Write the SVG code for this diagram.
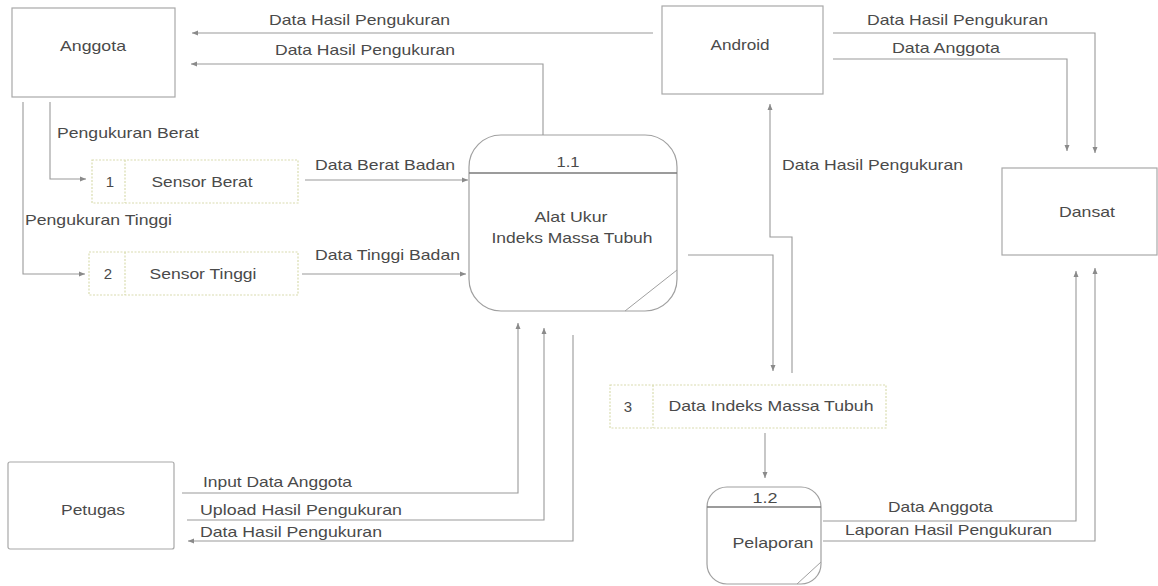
<svg xmlns="http://www.w3.org/2000/svg" width="1158" height="586" viewBox="0 0 1158 586">
  <defs>
    <marker id="arr" markerUnits="userSpaceOnUse" markerWidth="7" markerHeight="6" refX="6" refY="3" orient="auto">
      <path d="M0,0.5 L6,3 L0,5.5 z" fill="#8a8a8a"/>
    </marker>
    <style>
      text { font-family: "Liberation Sans", Arial, sans-serif; font-size: 15px; fill: #4a4a4a; }
      .mid { text-anchor: middle; }
      .ext { fill: #ffffff; stroke: #a8a8a8; stroke-width: 1.2; }
      .proc { fill: #ffffff; stroke: #a0a0a0; stroke-width: 1.2; }
      .bar { stroke: #7a7a7a; stroke-width: 1.6; }
      .fold { stroke: #a0a0a0; stroke-width: 1; fill: none; }
      .store { fill: #ffffff; stroke: #d9dcb0; stroke-width: 1.2; stroke-dasharray: 2 1.5; }
      .flow { fill: none; stroke: #9a9a9a; stroke-width: 1.1; marker-end: url(#arr); }
    </style>
  </defs>
  <rect width="1158" height="586" fill="#ffffff"/>

  <!-- external entities -->
  <g id="anggota">
    <rect class="ext" x="12" y="8" width="163" height="89"/>
    <text class="mid" x="93" y="51" textLength="66" lengthAdjust="spacingAndGlyphs">Anggota</text>
  </g>
  <g id="android">
    <rect class="ext" x="662" y="6" width="161" height="88"/>
    <text class="mid" x="740" y="50" textLength="59" lengthAdjust="spacingAndGlyphs">Android</text>
  </g>
  <g id="dansat">
    <rect class="ext" x="1002" y="168" width="155" height="87"/>
    <text class="mid" x="1087" y="217" textLength="56" lengthAdjust="spacingAndGlyphs">Dansat</text>
  </g>
  <g id="petugas">
    <rect class="ext" x="8" y="462" width="166" height="87" rx="2"/>
    <text class="mid" x="93" y="515" textLength="64" lengthAdjust="spacingAndGlyphs">Petugas</text>
  </g>

  <!-- processes -->
  <g id="proc-1-1">
    <rect class="proc" x="469" y="135" width="208" height="176" rx="32"/>
    <line class="bar" x1="469" y1="173" x2="677" y2="173"/>
    <path class="fold" d="M625,311 L677,270"/>
    <text class="mid" x="568" y="167" textLength="23" lengthAdjust="spacingAndGlyphs">1.1</text>
    <text class="mid" x="571" y="222" textLength="73" lengthAdjust="spacingAndGlyphs">Alat Ukur</text>
    <text class="mid" x="572" y="243" textLength="161" lengthAdjust="spacingAndGlyphs">Indeks Massa Tubuh</text>
  </g>
  <g id="proc-1-2">
    <rect class="proc" x="707" y="487" width="114" height="97" rx="20"/>
    <line class="bar" x1="707" y1="507" x2="821" y2="507"/>
    <path class="fold" d="M797,584 L821,562"/>
    <text class="mid" x="765" y="503" textLength="25" lengthAdjust="spacingAndGlyphs">1.2</text>
    <text class="mid" x="773" y="548" textLength="81" lengthAdjust="spacingAndGlyphs">Pelaporan</text>
  </g>

  <!-- data stores -->
  <g id="store-1">
    <rect class="store" x="92" y="160" width="206" height="43"/>
    <line class="store" x1="125" y1="160" x2="125" y2="203"/>
    <text class="mid" x="110" y="187">1</text>
    <text class="mid" x="202" y="187" textLength="101" lengthAdjust="spacingAndGlyphs">Sensor Berat</text>
  </g>
  <g id="store-2">
    <rect class="store" x="89" y="252" width="209" height="43"/>
    <line class="store" x1="125" y1="252" x2="125" y2="295"/>
    <text class="mid" x="108" y="279">2</text>
    <text class="mid" x="203" y="279" textLength="107" lengthAdjust="spacingAndGlyphs">Sensor Tinggi</text>
  </g>
  <g id="store-3">
    <rect class="store" x="610" y="385" width="276" height="43"/>
    <line class="store" x1="653" y1="385" x2="653" y2="428"/>
    <text class="mid" x="628" y="412">3</text>
    <text class="mid" x="771" y="411" textLength="205" lengthAdjust="spacingAndGlyphs">Data Indeks Massa Tubuh</text>
  </g>

  <!-- data flows -->
  <g id="connectors">
    <path class="flow" d="M653,33 H192"/>
    <path class="flow" d="M543,135 V64 H191"/>
    <path class="flow" d="M50,102 V179 H86"/>
    <path class="flow" d="M23,102 V274 H85"/>
    <path class="flow" d="M305,180 H468"/>
    <path class="flow" d="M302,274 H466"/>
    <path class="flow" d="M182,493 H518 V323"/>
    <path class="flow" d="M187,520 H544 V328"/>
    <path class="flow" d="M573,335 V541 H188"/>
    <path class="flow" d="M688,255 H773 V371"/>
    <path class="flow" d="M792,373 V237 H770 V104"/>
    <path class="flow" d="M765,433 V478"/>
    <path class="flow" d="M833,33 H1095 V153"/>
    <path class="flow" d="M833,59 H1067 V151"/>
    <path class="flow" d="M823,521 H1076 V271"/>
    <path class="flow" d="M823,541 H1095 V268"/>

    <text x="269" y="25" textLength="181" lengthAdjust="spacingAndGlyphs">Data Hasil Pengukuran</text>
    <text x="275" y="55" textLength="180" lengthAdjust="spacingAndGlyphs">Data Hasil Pengukuran</text>
    <text x="57" y="138" textLength="142" lengthAdjust="spacingAndGlyphs">Pengukuran Berat</text>
    <text x="25" y="225" textLength="147" lengthAdjust="spacingAndGlyphs">Pengukuran Tinggi</text>
    <text x="315" y="170" textLength="140" lengthAdjust="spacingAndGlyphs">Data Berat Badan</text>
    <text x="315" y="260" textLength="145" lengthAdjust="spacingAndGlyphs">Data Tinggi Badan</text>
    <text x="867" y="25" textLength="181" lengthAdjust="spacingAndGlyphs">Data Hasil Pengukuran</text>
    <text x="892" y="53" textLength="108" lengthAdjust="spacingAndGlyphs">Data Anggota</text>
    <text x="782" y="170" textLength="181" lengthAdjust="spacingAndGlyphs">Data Hasil Pengukuran</text>
    <text x="203" y="487" textLength="149" lengthAdjust="spacingAndGlyphs">Input Data Anggota</text>
    <text x="200" y="515" textLength="202" lengthAdjust="spacingAndGlyphs">Upload Hasil Pengukuran</text>
    <text x="200" y="537" textLength="182" lengthAdjust="spacingAndGlyphs">Data Hasil Pengukuran</text>
    <text x="888" y="512" textLength="105" lengthAdjust="spacingAndGlyphs">Data Anggota</text>
    <text x="845" y="535" textLength="207" lengthAdjust="spacingAndGlyphs">Laporan Hasil Pengukuran</text>
  </g>
</svg>
